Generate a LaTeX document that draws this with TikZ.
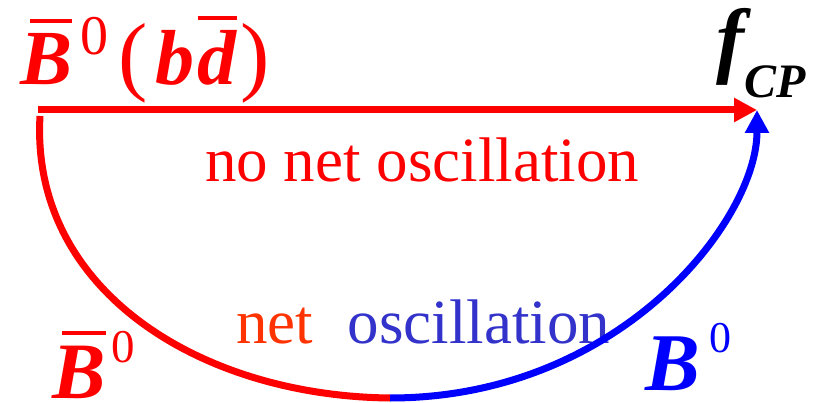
\documentclass[tikz,border=0pt]{standalone}
\usepackage{fontspec}
\setmainfont{Liberation Serif}
\usetikzlibrary{arrows.meta,positioning}
\definecolor{osred}{HTML}{FF0000}
\definecolor{osblue}{HTML}{0000FF}
\definecolor{osorange}{HTML}{FF3300}
\definecolor{osviolet}{HTML}{3333CC}
% bar over a letter: optional left shift of the bar
\newcommand{\antibar}[2][0pt]{\leavevmode\setbox0\hbox{#2}%
  \vbox{\offinterlineskip\hbox to\wd0{\kern#1\leaders\hrule height 4pt\hfill}\kern 11pt\box0}}
\newcommand{\supzero}[2]{\raisebox{#1}{\fontsize{#2}{#2}\selectfont\mdseries\upshape 0}}
\newcommand{\paren}[1]{{\fontsize{88}{88}\selectfont\mdseries\upshape#1}}
\tikzset{
  bigtip/.style={-{Triangle[length=23pt,width=23pt]}},
  mainarrow/.style={bigtip, line width=7pt, draw=osred},
  mixpath/.style={line width=7pt},
  particle/.style={inner sep=0pt, anchor=base west},
  caption/.style={inner sep=0pt, anchor=base west, font=\fontsize{63}{70}\selectfont}
}

\begin{document}
\begin{tikzpicture}[x=1pt, y=-1pt]
    \useasboundingbox (0,0) rectangle (824,403);

    \node[particle, text=osred, font=\fontsize{78}{80}\selectfont\bfseries\itshape] (bbar) at (20,85)
      {\antibar[10pt]{B}\kern 8pt\supzero{30pt}{56}\kern 10pt\paren{(}\kern 8pt b\kern 3pt\antibar{d}\kern 4pt\paren{)}};
    \node[particle, font=\fontsize{84}{84}\selectfont\bfseries\itshape] (fcp) at (716,68)
      {f\raisebox{-30pt}{\fontsize{48}{50}\selectfont CP}};

    \node[caption, anchor=base, text=osred] (nonet) at (422,182) {no net oscillation};
    \node[caption, text=osorange] (net) at (236,343) {net};
    \node[caption, text=osviolet, right=34pt of net.base east, anchor=base west] (osc) {oscillation};

    \node[particle, text=osred, font=\fontsize{80}{80}\selectfont\bfseries\itshape] (bbarlow) at (52,398)
      {\antibar[10pt]{B}\kern 6pt\supzero{36pt}{47}};
    \node[particle, text=osblue, font=\fontsize{82}{82}\selectfont\bfseries\itshape] (blow) at (645,390)
      {B\kern 10pt\supzero{38pt}{44}};

    \coordinate (start) at (38,110);
    \coordinate (fin) at (757,110);
    \coordinate (arcstart) at (40,116);
    \coordinate (low) at (390,398);

    \draw[mixpath, draw=osred] (arcstart) .. controls (30,290) and (200,396) .. (low);
    \draw[mixpath, draw=osblue, bigtip] (low) .. controls (620,398) and (757,220) .. (fin);
    \draw[mainarrow] (start) -- (fin);
\end{tikzpicture}
\end{document}
